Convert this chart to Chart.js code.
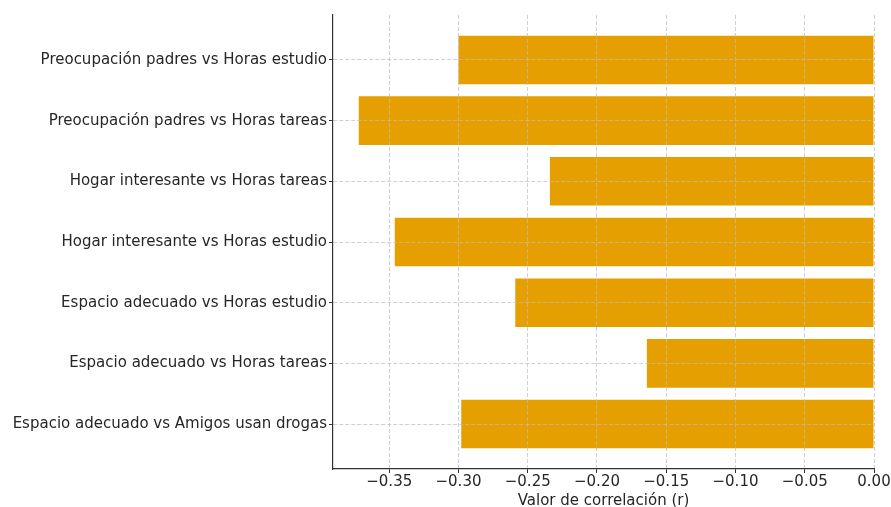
<!DOCTYPE html>
<html>
  <head>
    <meta charset="utf-8" />
    <title>Correlaciones</title>
    <script src="https://cdn.jsdelivr.net/npm/chart.js@4.4.0/dist/chart.umd.min.js"></script>
    <style>
      body {
        margin: 0;
        background: #fff;
      }
      #wrap {
        width: 891px;
        height: 507px;
      }
    </style>
  </head>
  <body>
    <div id="wrap"><canvas id="myChart"></canvas></div>
    <script>
      // top to bottom, as shown
      const pairs = [
        "Preocupación padres vs Horas estudio",
        "Preocupación padres vs Horas tareas",
        "Hogar interesante vs Horas tareas",
        "Hogar interesante vs Horas estudio",
        "Espacio adecuado vs Horas estudio",
        "Espacio adecuado vs Horas tareas",
        "Espacio adecuado vs Amigos usan drogas",
      ];
      const correlations = [-0.300, -0.372, -0.234, -0.346, -0.259, -0.164, -0.298];
      const xTicks = [-0.35, -0.3, -0.25, -0.2, -0.15, -0.1, -0.05, 0];

      const textColor = "#262626";
      const gridColor = "rgba(190,190,190,0.7)";
      const font = { family: "DejaVu Sans", size: 15 };

      const chart = new Chart(document.getElementById("myChart"), {
        type: "bar",
        data: {
          datasets: [
            {
              data: correlations.map((v, i) => ({ x: v, y: i })),
              backgroundColor: "#E69F00",
              borderWidth: 0,
              barPercentage: 1,
              categoryPercentage: 0.8,
            },
          ],
        },
        options: {
          indexAxis: "y",
          responsive: true,
          maintainAspectRatio: false,
          animation: false,
          layout: { padding: { top: 15, right: 17, left: 0, bottom: 0 } },
          plugins: {
            legend: { display: false },
            tooltip: { enabled: false },
          },
          scales: {
            x: {
              type: "linear",
              min: -0.3906,
              max: 0,
              afterBuildTicks: (scale) => {
                scale.ticks = xTicks.map((v) => ({ value: v }));
              },
              afterFit: (scale) => {
                scale.height = 38;
              },
              ticks: {
                color: textColor,
                font: font,
                padding: 0,
                maxRotation: 0,
                callback: (v) => (v < 0 ? "\u2212" + Math.abs(v).toFixed(2) : v.toFixed(2)),
              },
              grid: {
                z: 1,
                color: gridColor,
                lineWidth: 1,
                tickLength: 4,
                tickColor: "#333",
                tickWidth: 1,
                tickBorderDash: [],
              },
              border: { display: true, color: "#333", width: 1.2, dash: [4, 2], z: 2 },
              title: {
                display: true,
                text: "Valor de correlación (r)",
                color: textColor,
                font: font,
                padding: { top: 0, bottom: -3 },
              },
            },
            y: {
              type: "linear",
              reverse: true,
              offset: false,
              min: -0.74,
              max: 6.74,
              afterBuildTicks: (scale) => {
                scale.ticks = pairs.map((p, i) => ({ value: i }));
              },
              afterFit: (scale) => {
                scale.width = 333;
              },
              ticks: {
                color: textColor,
                font: font,
                padding: 2,
                callback: (v) => pairs[v],
              },
              grid: {
                z: 1,
                offset: false,
                color: gridColor,
                lineWidth: 1,
                tickLength: 4,
                tickColor: "#333",
                tickWidth: 1,
                tickBorderDash: [],
              },
              border: { display: true, color: "#333", width: 1.2, dash: [4, 2], z: 2 },
            },
          },
        },
      });
    </script>
  </body>
</html>
